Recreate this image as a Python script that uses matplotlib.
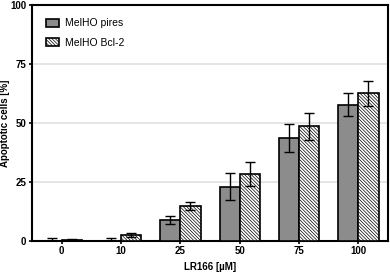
import matplotlib.pyplot as plt
import numpy as np

# dados
doses = ['0', '10', '25', '50', '75', '100']
pires = [0.0, 0.0, 8.8, 22.9, 43.6, 57.7]
pires_err = [1.4, 1.3, 1.8, 5.7, 5.9, 4.8]
bcl2 = [0.3, 2.5, 14.8, 28.4, 48.6, 62.5]
bcl2_err = [0.3, 0.9, 1.6, 5.1, 5.7, 5.2]

plt.rcParams['font.family'] = ['Liberation Sans', 'DejaVu Sans']
plt.rcParams['hatch.linewidth'] = 0.5
plt.rcParams['hatch.color'] = '#444444'

fig = plt.figure(figsize=(3.9, 2.75), dpi=100)
ax = fig.add_axes([0.082, 0.124, 0.913, 0.858])

x = np.arange(len(doses))
w = 0.34
ekw = dict(elinewidth=1.0, capthick=1.0, ecolor='black')

ax.bar(x - w / 2, pires, w, yerr=pires_err, capsize=3.5, color='#8c8c8c',
       edgecolor='black', linewidth=1.2, error_kw=ekw, label='MelHO pires', zorder=3)
ax.bar(x + w / 2, bcl2, w, yerr=bcl2_err, capsize=3.5, color='white',
       edgecolor='black', linewidth=1.2, hatch='\\' * 10, error_kw=ekw,
       label='MelHO Bcl-2', zorder=3)

ax.set_xlim(-0.5, 5.5)
ax.set_ylim(0, 100)
ax.set_yticks([0, 25, 50, 75, 100])
ax.set_xticks(x)
ax.set_xticklabels(doses)
for lab in ax.get_xticklabels() + ax.get_yticklabels():
    lab.set_fontweight('bold')
ax.tick_params(axis='both', labelsize=7, width=1.2, length=2.5, pad=1.5)
ax.grid(True, axis='y', color='#e0e0e0', linewidth=1.2, zorder=0)
for s in ax.spines.values():
    s.set_linewidth(1.5)

ax.set_ylabel('Apoptotic cells [%]', fontsize=7, fontweight='bold')
ax.yaxis.set_label_coords(-0.061, 0.5)
ax.set_xlabel('LR166 [µM]', fontsize=7, fontweight='bold', labelpad=4)

ax.legend(loc='upper left', frameon=False, fontsize=7.5, handlelength=1.3,
          handleheight=0.8, borderaxespad=0.9, labelspacing=0.9, handletextpad=0.6)

fig.savefig('out.png', dpi=100)
